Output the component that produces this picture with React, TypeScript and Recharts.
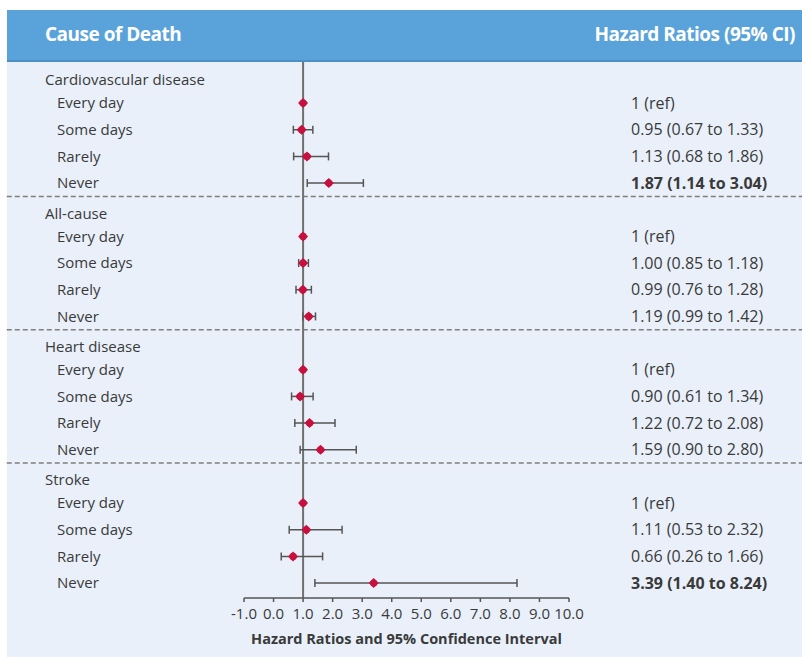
import React from "react";
import { ComposedChart, Scatter, ErrorBar, XAxis, YAxis, ReferenceLine } from "recharts";

const causes = ["Cardiovascular disease", "All-cause", "Heart disease", "Stroke"];
const frequencies = ["Every day", "Some days", "Rarely", "Never"];
const hazardRatios = [
  [1, 0.95, 1.13, 1.87],
  [1, 1.0, 0.99, 1.19],
  [1, 0.9, 1.22, 1.59],
  [1, 1.11, 0.66, 3.39],
];
const lowerCI = [
  [1, 0.67, 0.68, 1.14],
  [1, 0.85, 0.76, 0.99],
  [1, 0.61, 0.72, 0.9],
  [1, 0.53, 0.26, 1.4],
];
const upperCI = [
  [1, 1.33, 1.86, 3.04],
  [1, 1.18, 1.28, 1.42],
  [1, 1.34, 2.08, 2.8],
  [1, 2.32, 1.66, 8.24],
];
const xTicks = [-1, 0, 1, 2, 3, 4, 5, 6, 7, 8, 9, 10];

const FONT = "'Open Sans', 'DejaVu Sans', sans-serif";
const TEXT = "#3a3a3a";
const HEADER_OFFSET = 0.14;

type Row = { y: number; x: number; err: [number, number]; label: string; hrText: string; bold: boolean; header: boolean };

const rows: Row[] = [];
causes.forEach((c, g) => {
  rows.push({ y: g * 5 + HEADER_OFFSET, x: NaN, err: [0, 0], label: c, hrText: "", bold: false, header: true });
  frequencies.forEach((f, i) => {
    const hr = hazardRatios[g][i];
    const lo = lowerCI[g][i];
    const hi = upperCI[g][i];
    const ref = i === 0;
    rows.push({
      y: g * 5 + 1 + i,
      x: hr,
      err: [hr - lo, hi - hr],
      label: f,
      hrText: ref ? "1 (ref)" : `${hr.toFixed(2)} (${lo.toFixed(2)} to ${hi.toFixed(2)})`,
      bold: !ref && lo > 1,
      header: false,
    });
  });
});
const points = rows.filter((r) => !r.header);
const yTicks = rows.map((r) => r.y);
const hrTicks = points.map((r) => r.y);
const findRow = (v: number) => rows.find((r) => Math.abs(r.y - v) < 1e-6);
const separators = [4.5, 9.5, 14.5];

const LeftTick = (props: any) => {
  const r = findRow(props.payload.value);
  if (!r) return null;
  return (
    <text x={r.header ? 45 : 57} y={props.y} dy="0.35em" fill={TEXT} fontSize={15} fontFamily={FONT}>
      {r.label}
    </text>
  );
};

const RightTick = (props: any) => {
  const r = findRow(props.payload.value);
  if (!r) return null;
  return (
    <text x={631} y={props.y} dy="0.35em" fill={TEXT} fontSize={16} fontFamily={FONT} fontWeight={r.bold ? 700 : 400}>
      {r.hrText}
    </text>
  );
};

const Marker = (props: any) => {
  const { cx, cy } = props;
  if (cx == null || cy == null || isNaN(cx)) return null;
  return (
    <g>
      <polygon points={`${cx},${cy - 5} ${cx + 5},${cy} ${cx},${cy + 5} ${cx - 5},${cy}`} fill="#c8103e" />
      <circle cx={cx} cy={cy} r={3.6} fill="#c8103e" />
    </g>
  );
};

export default function App() {
  return (
    <div style={{ position: "absolute", left: 0, top: 0, width: 802, height: 657, background: "#ffffff", overflow: "hidden" }}>
      <div style={{ position: "absolute", left: 7, top: 10, width: 795, height: 647, background: "#e9f0f9" }} />
      <div
        style={{
          position: "absolute",
          left: 7,
          top: 10,
          width: 795,
          height: 50,
          background: "#5aa3da",
          borderBottom: "2px solid #4b8fc6",
          fontFamily: FONT,
          color: "#ffffff",
          fontWeight: 700,
          fontSize: 19,
        }}
      >
        <span style={{ position: "absolute", left: 38, top: 11, letterSpacing: -0.5 }}>Cause of Death</span>
        <span style={{ position: "absolute", right: 7, top: 11, letterSpacing: -0.5 }}>Hazard Ratios (95% CI)</span>
      </div>
      <div style={{ position: "absolute", left: 0, top: 0 }}>
        <ComposedChart width={802} height={657} margin={{ top: 62, right: 0, bottom: 0, left: 0 }} data={points}>
          <XAxis
            type="number"
            dataKey="x"
            domain={[-1, 10]}
            ticks={xTicks}
            allowDataOverflow
            interval={0}
            tickFormatter={(v: number) => v.toFixed(1)}
            tick={{ fill: TEXT, fontSize: 15, fontFamily: FONT }}
            tickSize={4}
            tickMargin={6}
            stroke="#555"
            strokeWidth={1.5}
            height={59}
            label={{ value: "Hazard Ratios and 95% Confidence Interval", position: "insideBottom", offset: 13, fill: TEXT, fontSize: 14.5, fontWeight: 700, fontFamily: FONT }}
          />
          <YAxis
            yAxisId="left"
            type="number"
            dataKey="y"
            domain={[-0.54, 19.56]}
            reversed
            allowDataOverflow
            ticks={yTicks}
            interval={0}
            width={244}
            axisLine={false}
            tickLine={false}
            tick={<LeftTick />}
          />
          <YAxis
            yAxisId="right"
            orientation="right"
            type="number"
            domain={[-0.54, 19.56]}
            reversed
            allowDataOverflow
            ticks={hrTicks}
            interval={0}
            width={233}
            axisLine={false}
            tickLine={false}
            tick={<RightTick />}
          />
          {separators.map((s) => (
            <ReferenceLine
              key={s}
              yAxisId="left"
              segment={[{ x: -9.03, y: s }, { x: 17.95, y: s }]}
              ifOverflow="visible"
              stroke="#7d7d7d"
              strokeWidth={1.5}
              strokeDasharray="5 3"
            />
          ))}
          <ReferenceLine yAxisId="left" x={1} stroke="#707070" strokeWidth={2} />
          <Scatter yAxisId="left" data={points} dataKey="x" shape={<Marker />} isAnimationActive={false}>
            <ErrorBar dataKey="err" direction="x" width={4} stroke="#555" strokeWidth={1.5} />
          </Scatter>
        </ComposedChart>
      </div>
    </div>
  );
}
